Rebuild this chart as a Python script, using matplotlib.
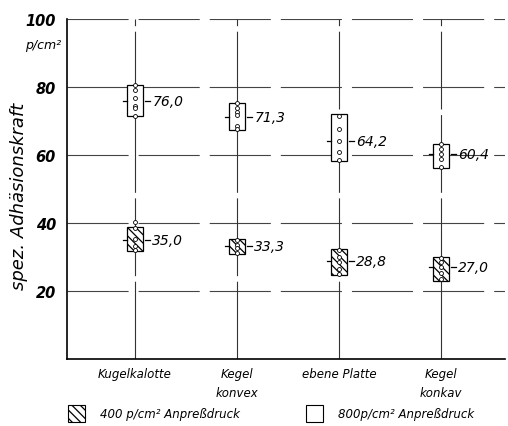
import matplotlib

matplotlib.use("Agg")
import matplotlib.pyplot as plt
from matplotlib.patches import Rectangle

# Measured adhesion per contact shape, two contact pressures
categories = ["Kugelkalotte", "Kegel\nkonvex", "ebene Platte", "Kegel\nkonkav"]

mean_800 = [76.0, 71.3, 64.2, 60.4]
low_800 = [71.6, 67.4, 58.3, 56.1]
high_800 = [80.6, 75.3, 72.1, 63.2]
points_800 = [
    [80.6, 79.2, 76.9, 74.5, 73.8, 71.6],
    [75.3, 73.7, 72.7, 71.8, 68.4, 67.6],
    [71.6, 67.6, 64.2, 60.8, 58.5],
    [63.2, 61.8, 60.3, 58.8, 56.4],
]

mean_400 = [35.0, 33.3, 28.8, 27.0]
low_400 = [31.9, 30.9, 24.7, 23.0]
high_400 = [38.7, 35.3, 32.4, 29.9]
points_400 = [
    [40.2, 38.6, 35.3, 33.2, 32.0],
    [35.0, 33.6, 32.6, 31.3],
    [32.0, 30.0, 28.5, 26.5, 25.0],
    [29.6, 28.4, 27.0, 25.4, 23.4],
]

y_ticks = [20, 40, 60, 80, 100]

plt.rcParams["hatch.linewidth"] = 0.9
FONT = dict(family="DejaVu Sans", style="italic")
BOX_W = 0.16

fig = plt.figure(figsize=(5.08, 4.27), dpi=100)
ax = fig.add_axes([0.132, 0.157, 0.862, 0.796])
ax.set_xlim(-0.667, 3.63)
ax.set_ylim(0, 100)

# grid: dashed horizontals, near-solid verticals through each shape
for v in y_ticks:
    ax.plot([-0.667, 3.63], [v, v], color="#444444", lw=0.8,
            linestyle=(0, (55, 9)), zorder=1)
for i in range(len(categories)):
    ax.plot([i, i], [0, 100], color="#333333", lw=0.8,
            linestyle=(0, (70, 5)), zorder=1)


def draw_group(means, lows, highs, pts, hatched):
    for i, (m, lo, hi, p) in enumerate(zip(means, lows, highs, pts)):
        ax.add_patch(Rectangle((i - BOX_W / 2, lo), BOX_W, hi - lo,
                               facecolor="white", edgecolor="black", lw=0.9,
                               hatch="\\\\\\\\" if hatched else None, zorder=3))
        ax.scatter([i] * len(p), p, s=8, facecolor="white",
                   edgecolor="black", linewidths=0.6, zorder=4)
        # small ticks on both sides at the mean
        ax.plot([i - BOX_W / 2 - 0.04, i - BOX_W / 2], [m, m],
                color="black", lw=0.9, zorder=4)
        ax.plot([i + BOX_W / 2 + 0.02, i + BOX_W / 2 + 0.07], [m, m],
                color="black", lw=0.9, zorder=4)
        ax.text(i + BOX_W / 2 + 0.09, m, f"{m:.1f}".replace(".", ","),
                va="center", ha="left", fontsize=10, **FONT)


draw_group(mean_800, low_800, high_800, points_800, hatched=False)
draw_group(mean_400, low_400, high_400, points_400, hatched=True)

for s in ["top", "right"]:
    ax.spines[s].set_visible(False)
ax.spines["left"].set_linewidth(1.2)
ax.spines["bottom"].set_linewidth(1.2)

ax.set_yticks(y_ticks)
ax.set_yticklabels([str(v) for v in y_ticks], fontsize=10.5,
                   fontweight="bold", **FONT)
ax.tick_params(axis="y", length=0, pad=8)
ax.set_xticks(range(len(categories)))
ax.set_xticklabels(categories, fontsize=8.5, va="top", linespacing=1.6, **FONT)
ax.tick_params(axis="x", length=0, pad=6)

ax.set_ylabel("spez. Adhäsionskraft", fontsize=13, **FONT)
ax.yaxis.set_label_coords(-0.089, 0.48)
fig.text(0.085, 0.893, "p/cm²", fontsize=9, ha="center", va="center", **FONT)

# legend drawn as boxes with text under the plot
fig.patches.append(Rectangle((0.134, 0.010), 0.033, 0.040, transform=fig.transFigure,
                             facecolor="white", edgecolor="black", lw=0.8,
                             hatch="\\\\\\\\"))
fig.text(0.197, 0.030, "400 p/cm² Anpreßdruck", fontsize=8.5, va="center", **FONT)
fig.patches.append(Rectangle((0.603, 0.010), 0.033, 0.040, transform=fig.transFigure,
                             facecolor="white", edgecolor="black", lw=0.8))
fig.text(0.665, 0.030, "800p/cm² Anpreßdruck", fontsize=8.5, va="center", **FONT)

fig.savefig("out.png", dpi=100)
